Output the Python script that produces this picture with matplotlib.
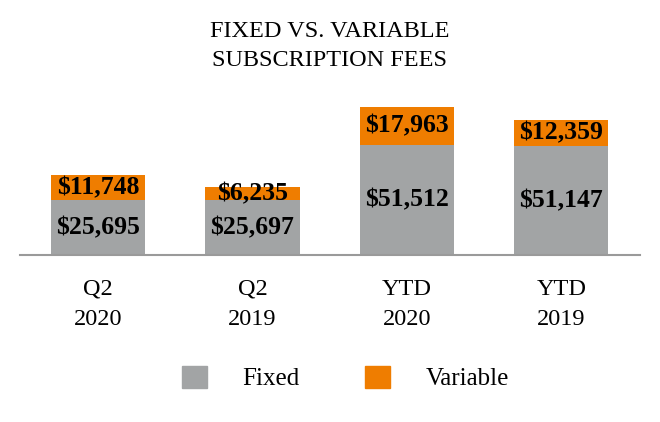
import matplotlib
matplotlib.use("Agg")
from matplotlib import pyplot as plt
from matplotlib.patches import Patch

plt.rcParams["font.family"] = ["Liberation Serif", "DejaVu Serif"]

categories = ["Q2\n2020", "Q2\n2019", "YTD\n2020", "YTD\n2019"]
fixed = [25695, 25697, 51512, 51147]
variable = [11748, 6235, 17963, 12359]

gray = "#a2a4a5"
orange = "#ef7d00"

fig = plt.figure(figsize=(6.6, 4.22), dpi=100)
ax = fig.add_axes([20 / 660, 167 / 422, 620 / 660, 160 / 422])

x = range(len(categories))
ax.bar(x, fixed, width=0.61, color=gray)
ax.bar(x, variable, width=0.61, bottom=fixed, color=orange)

for i in x:
    ax.text(i, fixed[i] / 2, "${:,}".format(fixed[i]), ha="center", va="center",
            fontsize=18.5, fontweight="bold")
    ax.text(i, fixed[i] + variable[i] / 2, "${:,}".format(variable[i]), ha="center",
            va="center", fontsize=18.5, fontweight="bold")

ax.set_xlim(-0.505, 3.51)
ax.set_ylim(0, 75000)
ax.set_yticks([])
ax.set_xticks(list(x))
ax.set_xticklabels(categories, fontsize=17.5, linespacing=1.6)
ax.tick_params(axis="x", length=0, pad=17)
for s in ["top", "right", "left"]:
    ax.spines[s].set_visible(False)
ax.spines["bottom"].set_color("#9a9a9a")
ax.spines["bottom"].set_linewidth(1.5)

fig.text(0.5, 0.891, "FIXED VS. VARIABLE\nSUBSCRIPTION FEES", ha="center", va="center",
         fontsize=17.5, linespacing=1.5)

handles = [Patch(color=gray, label="Fixed"), Patch(color=orange, label="Variable")]
fig.legend(handles=handles, loc="center", bbox_to_anchor=(0.523, 0.104), ncol=2,
           frameon=False, fontsize=18, handlelength=1.0, handleheight=1.0,
           handletextpad=1.4, columnspacing=2.65)

fig.savefig("out.png", dpi=100)
